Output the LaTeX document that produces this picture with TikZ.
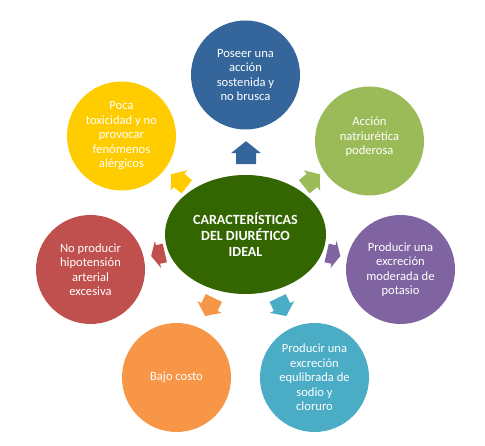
\documentclass[tikz,border=0pt]{standalone}
\usepackage{fontspec}
\setmainfont{Carlito}
\usetikzlibrary{shapes.geometric}
\definecolor{cblue}{HTML}{34659B}
\definecolor{cyellow}{HTML}{FFCC00}
\definecolor{cgreen}{HTML}{9BBB59}
\definecolor{cpurple}{HTML}{8064A2}
\definecolor{ccyan}{HTML}{4BACC6}
\definecolor{corange}{HTML}{F79646}
\definecolor{cred}{HTML}{C0504D}
\definecolor{ccenter}{HTML}{336600}
\tikzset{
  sat/.style={circle, minimum size=109pt, inner sep=0pt, text=white, align=center,
    font=\fontsize{12.6}{14.5}\selectfont},
  hub/.style={ellipse, minimum width=161pt, minimum height=119pt, inner sep=0pt,
    fill=ccenter, text=white, align=center, font=\bfseries\fontsize{14}{16}\selectfont}
}
% \blockarr{color}{name}{x}{y}{angle}{length}{headwidth}{shaftwidth}{headlength}
\newcommand\blockarr[9]{%
  \coordinate (#2) at (#3,#4);
  \fill[#1, shift={(#2)}, rotate=#5]
    ({-#6/2},{-#8/2}) -- ({#6/2-#9},{-#8/2}) -- ({#6/2-#9},{-#7/2}) -- ({#6/2},0)
    -- ({#6/2-#9},{#7/2}) -- ({#6/2-#9},{#8/2}) -- ({-#6/2},{#8/2}) -- cycle;}
\begin{document}
\begin{tikzpicture}[x=1pt,y=-1pt]
\useasboundingbox (0,0) rectangle (485,446);
\node[hub] (c) at (245.5,234.5) {CARACTERÍSTICAS\\DEL DIURÉTICO\\IDEAL};
\node[sat, fill=cblue] (s1) at (245.5,75) {Poseer una\\acción\\sostenida y\\no brusca};
\node[sat, fill=cgreen] (s2) at (369.5,141) {Acción\\natriurética\\poderosa\\[-4pt]\mbox{}};
\node[sat, fill=cpurple] (s3) at (400.5,269.5) {Producir una\\excreción\\moderada de\\potasio};
\node[sat, fill=ccyan] (s4) at (314.5,377.5) {Producir una\\excreción\\equlibrada de\\sodio y\\cloruro};
\node[sat, fill=corange] (s5) at (176.5,377.5) {Bajo costo};
\node[sat, fill=cred] (s6) at (90.5,269.5) {No producir\\hipotensión\\arterial\\excesiva};
\node[sat, fill=cyellow] (s7) at (121.5,136) {Poca\\toxicidad y no\\provocar\\fenómenos\\alérgicos};
% block arrows
\blockarr{cblue}{a1}{246}{152.7}{90}{23}{30}{20}{12}
\blockarr{cgreen}{a2}{312}{180.5}{38.6}{20}{26}{17}{10}
\blockarr{cpurple}{a3}{333.5}{254.5}{-12.9}{14}{28}{19}{7}
\blockarr{ccyan}{a4}{282}{307}{-64.3}{20}{27}{18}{10}
\blockarr{corange}{a5}{209.5}{307}{-115.7}{20}{27}{18}{10}
\blockarr{cred}{a6}{158}{254.5}{-167.1}{14}{28}{19}{7}
\blockarr{cyellow}{a7}{179}{180.5}{141.4}{20}{26}{17}{10}
\end{tikzpicture}
\end{document}
